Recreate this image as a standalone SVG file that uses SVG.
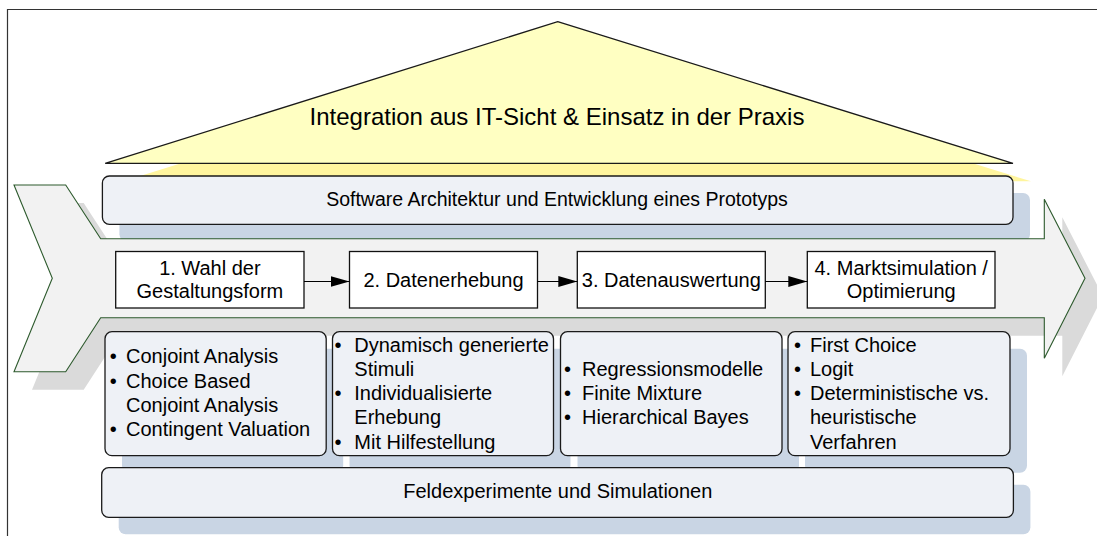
<svg xmlns="http://www.w3.org/2000/svg" width="1097" height="536" viewBox="0 0 1097 536">
<defs>
<style>
text{font-family:"Liberation Sans",Arial,sans-serif;fill:#000;}
.t20{font-size:20px;}
.mid{text-anchor:middle;}
.box{fill:#EEF1F6;stroke:#1a1a1a;stroke-width:1.3;}
.shadow{fill:#C9D5E4;}
.pbox{fill:#fff;stroke:#111;stroke-width:1.3;}
.conn{stroke:#000;stroke-width:1.2;fill:none;}
</style>
<marker id="ah" markerUnits="userSpaceOnUse" markerWidth="20" markerHeight="12" refX="19" refY="5.5" orient="auto">
<path d="M0,0 L19,5.5 L0,11 Z" fill="#000"/>
</marker>
</defs>
<rect width="1097" height="536" fill="#fff"/>
<path d="M7.5,536 V9.5 H1097" fill="none" stroke="#333" stroke-width="1.2"/>

<g id="roof">
<polygon points="575.7,40.7 1031,181.3 123.2,181.3" fill="#FFF59E"/>
<polygon points="557.7,21.7 1013,163.3 105.2,163.3" fill="#FFFFC2" stroke="#1a1a1a" stroke-width="1.3" stroke-linejoin="miter"/>
<text x="557" y="125" class="mid" font-size="24">Integration aus IT-Sicht &amp; Einsatz in der Praxis</text>
</g>

<g id="software">
<rect x="119.4" y="193" width="910.6" height="48.3" rx="7" class="shadow"/>
</g>

<g id="process-arrow">
<path transform="translate(18,18)" d="M14,185 L65.7,185 L100.7,238.7 L1044.3,238.7 L1044.3,199.3 L1085,278.3 L1044.3,358.3 L1044.3,317.7 L100.7,317.7 L65.7,371.7 L14,371.7 L52.3,278.3 Z" fill="#DADADA"/>
<path d="M14,185 L65.7,185 L100.7,238.7 L1044.3,238.7 L1044.3,199.3 L1085,278.3 L1044.3,358.3 L1044.3,317.7 L100.7,317.7 L65.7,371.7 L14,371.7 L52.3,278.3 Z" fill="#F2F2F2" stroke="#2D5A2D" stroke-width="1.1"/>
</g>

<g id="software-box">
<rect x="102.4" y="176" width="910.6" height="48.3" rx="7" class="box"/>
<text x="557" y="206" class="mid" font-size="19.5">Software Architektur und Entwicklung eines Prototyps</text>
</g>

<g id="step1">
<rect x="115.7" y="251.5" width="188.3" height="56.5" class="pbox"/>
<text x="209.9" y="275" class="mid t20">1. Wahl der</text>
<text x="209.9" y="298.3" class="mid t20">Gestaltungsform</text>
</g>
<g id="step2">
<rect x="349.5" y="251.5" width="188" height="56.5" class="pbox"/>
<text x="443.5" y="286.5" class="mid t20">2. Datenerhebung</text>
</g>
<g id="step3">
<rect x="577.3" y="251.5" width="188" height="56.5" class="pbox"/>
<text x="671.3" y="286.5" class="mid t20">3. Datenauswertung</text>
</g>
<g id="step4">
<rect x="807.3" y="251.5" width="187.7" height="56.5" class="pbox"/>
<text x="901.2" y="275" class="mid t20">4. Marktsimulation /</text>
<text x="901.2" y="298.3" class="mid t20">Optimierung</text>
</g>

<g id="connectors">
<line x1="304" y1="281.5" x2="349.5" y2="281.5" class="conn" marker-end="url(#ah)"/>
<line x1="537.5" y1="281.5" x2="577.3" y2="281.5" class="conn" marker-end="url(#ah)"/>
<line x1="765.3" y1="281.5" x2="807.3" y2="281.5" class="conn" marker-end="url(#ah)"/>
</g>

<g id="shadows-bottom">
<rect x="122" y="348.7" width="221.2" height="124" rx="7" class="shadow"/>
<rect x="349.5" y="348.7" width="221" height="124" rx="7" class="shadow"/>
<rect x="577.5" y="348.7" width="221.5" height="124" rx="7" class="shadow"/>
<rect x="805" y="348.7" width="222" height="124" rx="7" class="shadow"/>
<rect x="118.7" y="484.7" width="911.7" height="49.6" rx="7" class="shadow"/>
</g>

<g id="methods-1">
<rect x="105" y="331.7" width="221.2" height="124" rx="7" class="box"/>
<text x="113.3" y="363.3" class="mid t20">•</text>
<text x="126" y="363.3" class="t20">Conjoint Analysis</text>
<text x="113.3" y="387.6" class="mid t20">•</text>
<text x="126" y="387.6" class="t20">Choice Based</text>
<text x="126" y="411.9" class="t20">Conjoint Analysis</text>
<text x="113.3" y="436.2" class="mid t20">•</text>
<text x="126" y="436.2" class="t20">Contingent Valuation</text>
</g>
<g id="methods-2">
<rect x="332.5" y="331.7" width="221" height="124" rx="7" class="box"/>
<text x="338" y="351.5" class="mid t20">•</text>
<text x="354.3" y="351.5" class="t20">Dynamisch generierte</text>
<text x="354.3" y="375.8" class="t20">Stimuli</text>
<text x="338" y="400.1" class="mid t20">•</text>
<text x="354.3" y="400.1" class="t20">Individualisierte</text>
<text x="354.3" y="424.4" class="t20">Erhebung</text>
<text x="338" y="448.7" class="mid t20">•</text>
<text x="354.3" y="448.7" class="t20">Mit Hilfestellung</text>
</g>
<g id="methods-3">
<rect x="560.5" y="331.7" width="221.5" height="124" rx="7" class="box"/>
<text x="567.5" y="375.5" class="mid t20">•</text>
<text x="582" y="375.5" class="t20">Regressionsmodelle</text>
<text x="567.5" y="399.8" class="mid t20">•</text>
<text x="582" y="399.8" class="t20">Finite Mixture</text>
<text x="567.5" y="424.1" class="mid t20">•</text>
<text x="582" y="424.1" class="t20">Hierarchical Bayes</text>
</g>
<g id="methods-4">
<rect x="788" y="331.7" width="222" height="124" rx="7" class="box"/>
<text x="797.5" y="351.5" class="mid t20">•</text>
<text x="810" y="351.5" class="t20">First Choice</text>
<text x="797.5" y="375.8" class="mid t20">•</text>
<text x="810" y="375.8" class="t20">Logit</text>
<text x="797.5" y="400.1" class="mid t20">•</text>
<text x="810" y="400.1" class="t20">Deterministische vs.</text>
<text x="810" y="424.4" class="t20">heuristische</text>
<text x="810" y="448.7" class="t20">Verfahren</text>
</g>

<g id="field">
<rect x="101.7" y="467.7" width="911.7" height="49.6" rx="7" class="box"/>
<text x="557.8" y="498.3" class="mid t20">Feldexperimente und Simulationen</text>
</g>
</svg>
